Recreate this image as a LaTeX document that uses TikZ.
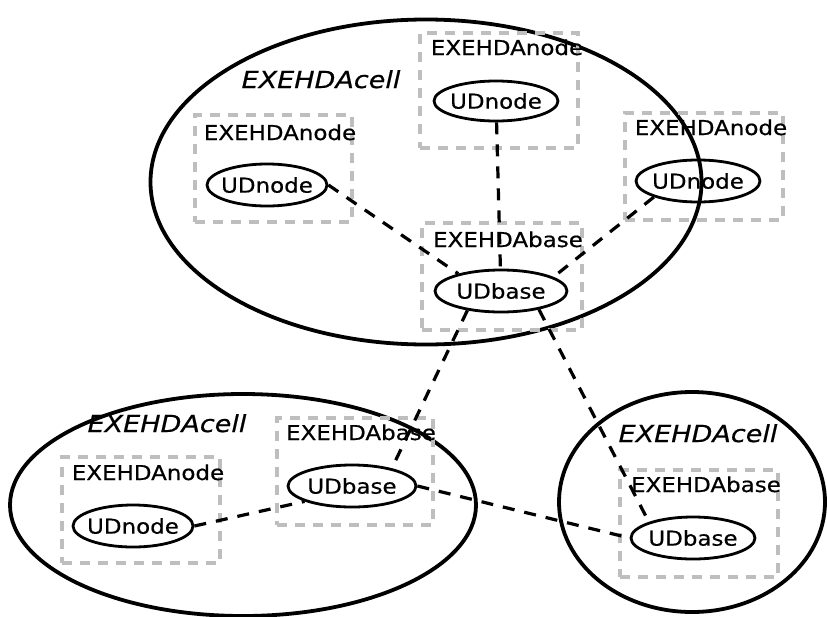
\documentclass[tikz,border=0pt]{standalone}
\usepackage{fontspec}
\newfontfamily\lblfont[FakeStretch=1.12,FakeBold=0.6]{DejaVu Sans}
\newfontfamily\cellfont[FakeStretch=1.15,FakeBold=0.6]{DejaVu Sans}
\usetikzlibrary{shapes.geometric}
\definecolor{boxgray}{RGB}{190,190,190}
\begin{document}
\begin{tikzpicture}[x=1pt,y=-1pt,
  cell/.style={ellipse, draw, line width=3.8pt, inner sep=0pt},
  holder/.style={rectangle, draw=boxgray, line width=4.5pt, dash pattern=on 10pt off 8pt, inner sep=0pt},
  ud/.style={ellipse, draw, line width=2.8pt, inner xsep=-4pt, inner ysep=0pt,
    font=\lblfont\fontsize{20.5}{24}\selectfont},
  tag/.style={anchor=base, inner sep=0pt, font=\lblfont\fontsize{20.5}{24}\selectfont},
  celltag/.style={anchor=base, inner sep=0pt, font=\cellfont\itshape\fontsize{23.5}{28}\selectfont},
  link/.style={line width=3.2pt, dash pattern=on 12pt off 10pt}]
\useasboundingbox (0,0) rectangle (827,616);

% cells
\node[cell, minimum width=551pt, minimum height=325pt] (topcell) at (426,182) {};
\node[cell, minimum width=466pt, minimum height=222pt] (leftcell) at (243,505) {};
\node[cell, minimum width=266pt, minimum height=220pt] (rightcell) at (692,502) {};

% cell titles
\node[celltag] (topcelltag) at (321,88) {EXEHDAcell};
\node[celltag] (leftcelltag) at (167,432) {EXEHDAcell};
\node[celltag] (rightcelltag) at (698,442) {EXEHDAcell};

% dashed holders
\node[holder, minimum width=158pt, minimum height=115pt] (tnbox) at (499,90.5) {};
\node[holder, minimum width=157pt, minimum height=107pt] (lnbox) at (273.5,168.5) {};
\node[holder, minimum width=158pt, minimum height=107pt] (rnbox) at (704,166.5) {};
\node[holder, minimum width=160pt, minimum height=107pt] (tbbox) at (502,276.5) {};
\node[holder, minimum width=158pt, minimum height=106pt] (bnbox) at (141,510) {};
\node[holder, minimum width=156pt, minimum height=107pt] (lbbox) at (355,471.5) {};
\node[holder, minimum width=158pt, minimum height=107pt] (rbbox) at (699,523.5) {};

% holder titles
\node[tag] (tntag) at (507,55) {EXEHDAnode};
\node[tag] (lntag) at (280,140) {EXEHDAnode};
\node[tag] (rntag) at (711,135) {EXEHDAnode};
\node[tag] (tbtag) at (508,247) {EXEHDAbase};
\node[tag] (bntag) at (148,480) {EXEHDAnode};
\node[tag] (lbtag) at (361,440) {EXEHDAbase};
\node[tag] (rbtag) at (706,492) {EXEHDAbase};

% UD ellipses
\node[ud, minimum width=124pt, minimum height=40pt] (tn) at (496,101) {UDnode};
\node[ud, minimum width=120pt, minimum height=42pt] (ln) at (267,185) {UDnode};
\node[ud, minimum width=124pt, minimum height=42pt] (rn) at (698,181) {UDnode};
\node[ud, minimum width=132pt, minimum height=42pt] (tb) at (501,291) {UDbase};
\node[ud, minimum width=120pt, minimum height=42pt] (bn) at (133,526) {UDnode};
\node[ud, minimum width=128pt, minimum height=42pt] (lb) at (352,486) {UDbase};
\node[ud, minimum width=124pt, minimum height=42pt] (rb) at (693,538) {UDbase};

% connections
\draw[link] (tn) -- (tb);
\draw[link] (ln.0) -- (tb.158);
\draw[link] (rn.200) -- (tb.15);
\draw[link] (tb.210) -- (lb.24);
\draw[link] (tb.334) -- (rb.160);
\draw[link] (bn.0) -- (lb.198);
\draw[link] (lb.0) -- (rb.180);
\end{tikzpicture}
\end{document}
